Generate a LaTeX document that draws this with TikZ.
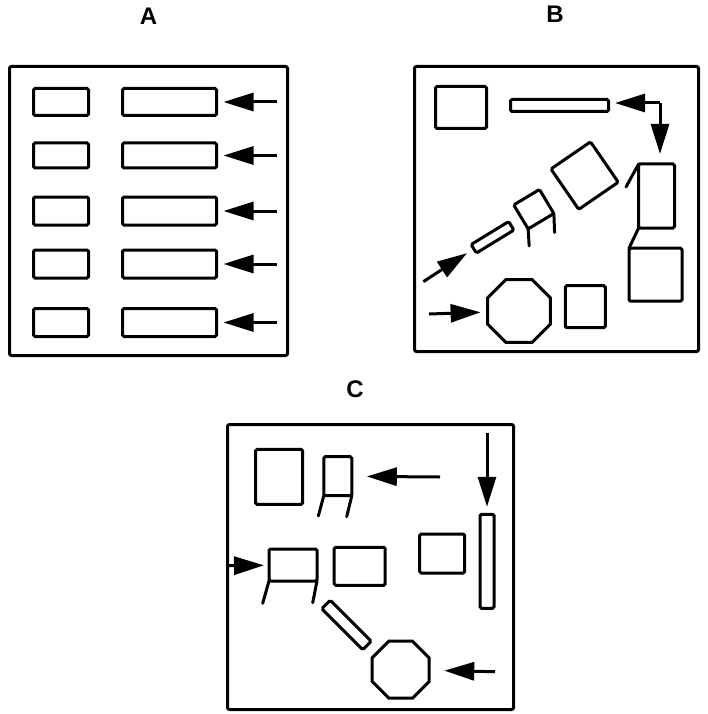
\documentclass[tikz,border=0pt]{standalone}
\usepackage{fontspec}
\setmainfont{Liberation Sans}
\usetikzlibrary{arrows.meta,shapes.geometric}

\begin{document}
\begin{tikzpicture}[x=1pt,y=-1pt,
  part/.style={draw, line width=3pt, rounded corners=1.5pt, inner sep=0pt, outer sep=0pt},
  box/.style 2 args={part, minimum width=#1pt, minimum height=#2pt},
  octa/.style={draw, line width=3pt, regular polygon, regular polygon sides=8,
    minimum size=#1pt, inner sep=0pt, outer sep=0pt},
  feed/.style={line width=3pt, -{Triangle[length=30pt,width=18pt]}},
  leg/.style={line width=3pt, line cap=round},
  frame/.style={line width=3pt, rounded corners=2pt},
  title/.style={font=\fontsize{24}{24}\selectfont\bfseries, inner sep=0pt}
]
\useasboundingbox (0,0) rectangle (707,714);

% ---------- layout A: parallel rows ----------
\node[title] (tA) at (148.5,16.5) {A};
\draw[frame] (9.5,66.5) rectangle (287.5,355.5);
\foreach \r/\y/\h in {1/102/27, 2/155.5/25, 3/211/28, 4/264/28, 5/322.5/28} {
  \node[box={55}{\h}] (As\r) at (61,\y) {};
  \node[box={94}{\h}] (Al\r) at (169.5,\y) {};
  \coordinate (At\r) at (277,\y);
  \draw[feed, shorten >=7pt] (At\r) -- (Al\r);
}

% ---------- layout B: diagonal flow ----------
\node[title] (tB) at (555,14.5) {B};
\draw[frame] (414.5,66.5) rectangle (698.5,351.5);
\node[box={51}{42}] (Bq) at (461,107.5) {};
\node[box={98}{12}] (Bbar) at (559.5,105.5) {};
\coordinate (Bturn) at (660,103);
\draw[feed, shorten >=6.5pt] (Bturn) -- (Bturn -| Bbar.east);
\node[box={36}{64}] (Bchair) at (656.6,196) {};
\draw[feed, shorten >=10pt] (Bturn) -- (Bturn |- Bchair.north);
\node[box={53}{53}] (Bbox) at (655.5,274.7) {};
\draw[leg] (Bchair.north west) -- (626,187);
\draw[leg] (Bchair.south west) -- (Bbox.north west);
\node[box={48}{49}, rotate=34.5] (Bsq) at (584.6,175.6) {};
\node[box={30}{28}, rotate=31] (Bcube) at (533.8,209.2) {};
\draw[leg] (Bcube.south west) -- ++(1,17);
\draw[leg] (Bcube.south east) -- ++(0.7,19);
\node[box={44}{10}, rotate=31.5] (Bslat) at (492.5,237.3) {};
\coordinate (Bin1) at (423.3,281.7);
\draw[feed, shorten >=8pt] (Bin1) -- (Bslat.west);
\node[box={40}{42}] (Bsm) at (585.3,306.7) {};
\node[octa=68] (Boct) at (519,311) {};
\coordinate (Bin2) at (429,314);
\draw[feed, shorten >=7pt] (Bin2) -- (Boct);

% ---------- layout C: mixed ----------
\node[title] (tC) at (355,389) {C};
\draw[frame] (227.5,424.5) rectangle (513.5,709.5);
\node[box={47}{55}] (Cq) at (279.2,476.9) {};
\node[box={28}{39}] (Cch1) at (337.8,476.2) {};
\draw[leg] (Cch1.south west) -- (318.3,516);
\draw[leg] (Cch1.south east) -- (346.7,516.7);
\coordinate (Cin1) at (440,477);
\draw[feed, shorten >=15pt] (Cin1) -- (Cch1);
\node[box={14}{94}] (Cbar) at (487,561.3) {};
\coordinate (Cin2) at (487,433.3);
\draw[feed, shorten >=7.5pt] (Cin2) -- (Cbar);
\node[box={45}{39}] (Csq) at (442.2,553.5) {};
\node[box={48}{32}] (Cch2) at (293,565) {};
\draw[leg] (Cch2.south west) -- (262.7,603.3);
\draw[leg] (Cch2.south east) -- (312.7,602.7);
\coordinate (Cin3) at (228.3,565.7);
\draw[feed, shorten >=5pt] (Cin3) -- (Cch2);
\node[box={51}{38}] (Crect) at (359.7,566.3) {};
\node[box={58}{12}, rotate=-45] (Cslat) at (346.5,625) {};
\node[octa=61.7] (Coct) at (400.7,669.7) {};
\coordinate (Cin4) at (495,671.7);
\draw[feed, shorten >=15pt] (Cin4) -- (Coct);
\end{tikzpicture}
\end{document}
